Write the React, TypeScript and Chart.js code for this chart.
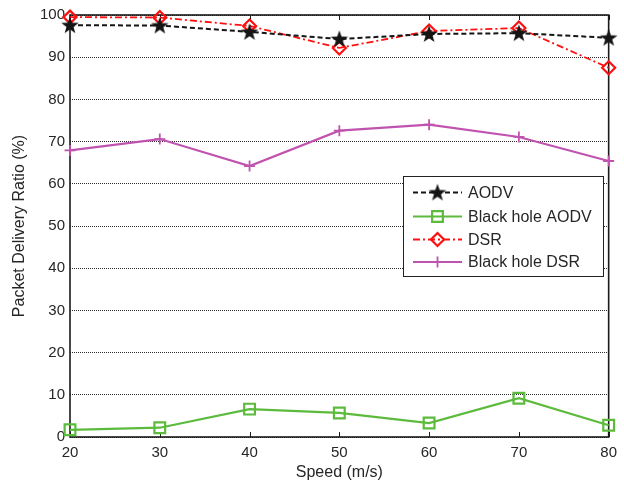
import { useEffect, useRef } from 'react';
import { Chart, registerables } from 'chart.js';

Chart.register(...registerables);

const speeds = [20, 30, 40, 50, 60, 70, 80];
const aodv = [97.6, 97.5, 96.0, 94.3, 95.5, 95.7, 94.6];
const blackHoleAodv = [1.7, 2.2, 6.6, 5.7, 3.3, 9.2, 2.8];
const dsr = [99.5, 99.4, 97.4, 92.2, 96.2, 96.9, 87.5];
const blackHoleDsr = [67.9, 70.6, 64.2, 72.6, 74.0, 71.1, 65.4];
const seriesLabels = ['AODV', 'Black hole AODV', 'DSR', 'Black hole DSR'];
const xTickValues = [20, 30, 40, 50, 60, 70, 80];
const yTickValues = [0, 10, 20, 30, 40, 50, 60, 70, 80, 90, 100];
const xTitle = 'Speed (m/s)';
const yTitle = 'Packet Delivery Ratio (%)';

const FONT = '"Liberation Sans", Arial, Helvetica, sans-serif';
const TEXT = '#262626';
const GREEN = '#5cbb3c';
const MAGENTA = '#c053b0';
const RED = '#ff1010';
const BLACK = '#151515';

function makeStar(color: string): HTMLCanvasElement {
  const c = document.createElement('canvas');
  c.width = 20;
  c.height = 20;
  const ctx = c.getContext('2d')!;
  ctx.fillStyle = color;
  ctx.beginPath();
  const R = 9.2, r = 3.7, cx = 10, cy = 10.5;
  for (let i = 0; i < 10; i++) {
    const rad = i % 2 === 0 ? R : r;
    const a = -Math.PI / 2 + (i * Math.PI) / 5;
    const px = cx + rad * Math.cos(a);
    const py = cy + rad * Math.sin(a);
    if (i === 0) ctx.moveTo(px, py);
    else ctx.lineTo(px, py);
  }
  ctx.closePath();
  ctx.fill();
  return c;
}

function drawMarker(ctx: CanvasRenderingContext2D, ds: any, x: number, y: number) {
  const style = ds.pointStyle;
  ctx.save();
  ctx.setLineDash([]);
  if (style instanceof HTMLCanvasElement) {
    ctx.drawImage(style, x - style.width / 2, y - style.height / 2);
  } else {
    ctx.strokeStyle = ds.pointBorderColor;
    ctx.lineWidth = ds.pointBorderWidth;
    const r = ds.pointRadius;
    ctx.beginPath();
    if (style === 'rect') {
      const s = Math.SQRT1_2 * r;
      ctx.rect(x - s, y - s, 2 * s, 2 * s);
    } else if (style === 'rectRot') {
      ctx.moveTo(x, y - r);
      ctx.lineTo(x + r, y);
      ctx.lineTo(x, y + r);
      ctx.lineTo(x - r, y);
      ctx.closePath();
    } else if (style === 'cross') {
      ctx.moveTo(x - r, y);
      ctx.lineTo(x + r, y);
      ctx.moveTo(x, y - r);
      ctx.lineTo(x, y + r);
    }
    ctx.stroke();
  }
  ctx.restore();
}

const framePlugin = {
  id: 'frame',
  beforeDatasetsDraw(chart: any) {
    const { ctx, chartArea: a, scales } = chart;
    ctx.save();
    ctx.strokeStyle = '#1a1a1a';
    ctx.lineWidth = 1.6;
    ctx.setLineDash([]);
    ctx.strokeRect(a.left, a.top, a.right - a.left, a.bottom - a.top);
    ctx.lineWidth = 1;
    ctx.beginPath();
    for (const v of xTickValues) {
      const px = Math.round(scales.x.getPixelForValue(v)) + 0.5;
      ctx.moveTo(px, a.bottom);
      ctx.lineTo(px, a.bottom - 5);
      ctx.moveTo(px, a.top);
      ctx.lineTo(px, a.top + 5);
    }
    ctx.stroke();
    ctx.restore();
  },
};

const legendPlugin = {
  id: 'customLegend',
  afterDraw(chart: any) {
    const { ctx } = chart;
    const bx = 403, by = 176, bw = 200, bh = 100;
    ctx.save();
    ctx.fillStyle = '#ffffff';
    ctx.fillRect(bx, by, bw, bh);
    ctx.strokeStyle = '#222';
    ctx.lineWidth = 1;
    ctx.setLineDash([]);
    ctx.strokeRect(bx + 0.5, by + 0.5, bw, bh);
    const rows = [192.5, 216.5, 239.5, 262];
    chart.data.datasets.forEach((ds: any, i: number) => {
      const y = rows[i];
      ctx.strokeStyle = ds.borderColor;
      ctx.lineWidth = ds.borderWidth;
      ctx.setLineDash(ds.borderDash || []);
      ctx.beginPath();
      ctx.moveTo(413, y);
      ctx.lineTo(462, y);
      ctx.stroke();
      drawMarker(ctx, ds, 437.5, y);
      ctx.fillStyle = TEXT;
      ctx.font = `16px ${FONT}`;
      ctx.textAlign = 'left';
      ctx.textBaseline = 'middle';
      ctx.fillText(ds.label, 468, y + 1);
    });
    ctx.restore();
  },
};

export default function App() {
  const ref = useRef<HTMLCanvasElement>(null);
  useEffect(() => {
    const star = makeStar(BLACK);
    const toXY = (vals: number[]) => speeds.map((s, i) => ({ x: s, y: vals[i] }));
    const chart = new Chart(ref.current!, {
      type: 'line',
      data: {
        datasets: [
          {
            label: seriesLabels[0],
            data: toXY(aodv),
            borderColor: BLACK,
            borderWidth: 2,
            borderDash: [5, 3],
            pointStyle: star as any,
            pointRadius: 9,
            pointBorderColor: BLACK,
            pointBackgroundColor: BLACK,
            pointBorderWidth: 0,
            clip: false as any,
          },
          {
            label: seriesLabels[1],
            data: toXY(blackHoleAodv),
            borderColor: GREEN,
            borderWidth: 2.2,
            pointStyle: 'rect',
            pointRadius: 7.6,
            pointBorderColor: GREEN,
            pointBackgroundColor: 'rgba(0,0,0,0)',
            pointBorderWidth: 2.2,
            clip: false as any,
          },
          {
            label: seriesLabels[2],
            data: toXY(dsr),
            borderColor: RED,
            borderWidth: 1.8,
            borderDash: [7, 3, 2, 3],
            pointStyle: 'rectRot',
            pointRadius: 6.5,
            pointBorderColor: RED,
            pointBackgroundColor: 'rgba(0,0,0,0)',
            pointBorderWidth: 2.2,
            clip: false as any,
          },
          {
            label: seriesLabels[3],
            data: toXY(blackHoleDsr),
            borderColor: MAGENTA,
            borderWidth: 2.2,
            pointStyle: 'cross',
            pointRadius: 5.5,
            pointBorderColor: MAGENTA,
            pointBackgroundColor: MAGENTA,
            pointBorderWidth: 1.8,
            clip: false as any,
          },
        ],
      },
      options: {
        responsive: false,
        animation: false,
        events: [],
        layout: { padding: { top: 15, right: 15, left: 0, bottom: 0 } },
        plugins: {
          legend: { display: false },
          tooltip: { enabled: false },
        },
        elements: { line: { tension: 0 } },
        scales: {
          x: {
            type: 'linear',
            min: 20,
            max: 80,
            afterFit: (s: any) => {
              s.height = 47;
            },
            afterBuildTicks: (s: any) => {
              s.ticks = xTickValues.map((v) => ({ value: v }));
            },
            grid: { display: false, drawTicks: false },
            border: { display: false },
            ticks: {
              padding: 7,
              color: TEXT,
              font: { family: FONT, size: 15 },
              maxRotation: 0,
              autoSkip: false,
            },
            title: {
              display: true,
              text: xTitle,
              color: TEXT,
              font: { family: FONT, size: 16 },
              padding: { top: 0, bottom: 2 },
            },
          },
          y: {
            type: 'linear',
            min: 0,
            max: 100,
            afterFit: (s: any) => {
              s.width = 70;
            },
            afterBuildTicks: (s: any) => {
              s.ticks = yTickValues.map((v) => ({ value: v }));
            },
            grid: {
              color: '#2a2a2a',
              lineWidth: 1,
              drawTicks: false,
            },
            border: { display: false, dash: [1, 1] },
            ticks: {
              padding: 5,
              color: TEXT,
              font: { family: FONT, size: 15 },
              autoSkip: false,
            },
            title: {
              display: true,
              text: yTitle,
              color: TEXT,
              font: { family: FONT, size: 16 },
              padding: { top: 10, bottom: 0 },
            },
          },
        },
      },
      plugins: [framePlugin, legendPlugin],
    });
    return () => chart.destroy();
  }, []);
  return (
    <div style={{ position: 'fixed', left: 0, top: 0, width: 624, height: 484, background: '#fff' }}>
      <canvas ref={ref} width={624} height={484} style={{ display: 'block' }} />
    </div>
  );
}
